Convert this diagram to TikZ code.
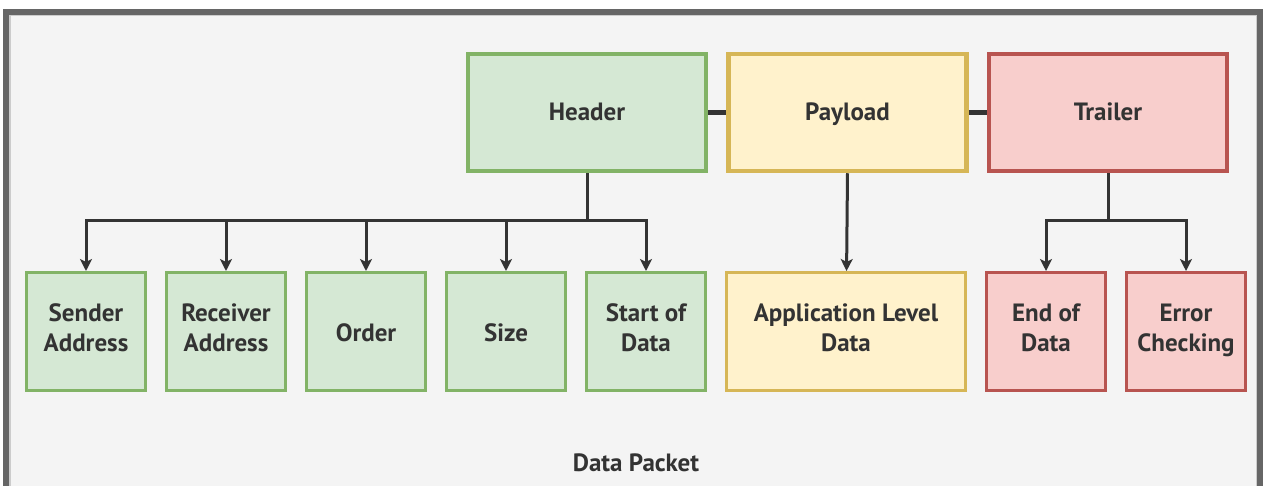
\documentclass[tikz,border=0pt]{standalone}
\usepackage{fontspec}
\setmainfont{PT Sans}
\usetikzlibrary{positioning,arrows.meta}

\definecolor{framegray}{HTML}{666666}
\definecolor{bggray}{HTML}{F4F4F4}
\definecolor{inkgray}{HTML}{333333}
\definecolor{greenfill}{HTML}{D5E8D4}
\definecolor{greenline}{HTML}{82B366}
\definecolor{yellowfill}{HTML}{FFF2CC}
\definecolor{yellowline}{HTML}{D6B656}
\definecolor{redfill}{HTML}{F8CECC}
\definecolor{redline}{HTML}{B85450}

\newcommand{\captop}{\rule{0pt}{23pt}}
\newcommand{\fieldtop}{\rule{0pt}{28pt}}
\newcommand{\capbot}{\rule[-7pt]{0pt}{7pt}}

\begin{document}
\begin{tikzpicture}[x=1pt,y=-1pt,node distance=18pt,
                    >={Stealth[length=12pt,width=12pt,inset=3pt]},
                    font=\fontsize{25}{30}\selectfont\bfseries,text=inkgray,
                    execute at begin node=\captop,
                    execute at end node=\capbot]
  \tikzstyle{part}=[draw,rectangle,line width=4.5pt,minimum width=238pt,minimum height=117pt,align=center]
  \tikzstyle{field}=[draw,rectangle,line width=3pt,minimum width=119pt,minimum height=118pt,align=center,inner sep=1pt,
                     execute at begin node=\fieldtop]
  \tikzstyle{link}=[draw=inkgray,line width=3pt]
	\tikzstyle{green}=[fill=greenfill,draw=greenline]
	\tikzstyle{yellow}=[fill=yellowfill,draw=yellowline]
	\tikzstyle{red}=[fill=redfill,draw=redline]

  % frame
  \useasboundingbox (0,0) rectangle (1267,486);
  \fill[white] (0,0) rectangle (1267,486);
  \draw[line width=6pt,draw=framegray,fill=bggray] (6,12) rectangle (1260,530);
  \draw[line width=1.5pt,draw=black!20] (9.75,15.75) rectangle (1256.25,530);

  % top row
  \node[part,green]  (header)                        at (587,112.5) {Header};
  \node[part,yellow] (payload) [right=of header]  {Payload};
  \node[part,red]    (trailer) [right=of payload] {Trailer};

  % bottom row
  \node[field,green]  (sender)   at (86,331.5)       {Sender\\Address};
  \node[field,green]  (receiver) [right=of sender]   {Receiver\\Address};
  \node[field,green]  (order)    [right=of receiver] {Order};
  \node[field,green]  (size)     [right=of order]    {Size};
  \node[field,green]  (start)    [right=of size]     {Start of\\Data};
  \node[field,yellow,minimum width=239pt] (appdata) [right=of start] {Application Level\\Data};
  \node[field,red]    (enddata)  [right=of appdata]  {End of\\Data};
  \node[field,red]    (errcheck) [right=of enddata]  {Error\\Checking};

  \node (packet) at (636,463) {Data Packet};

  \coordinate (hbus) at ([yshift=-47pt]header.south);
  \coordinate (tbus) at ([yshift=-47pt]trailer.south);

  \path[link,line width=4.5pt] (header) -- (payload)
        (payload) -- (trailer);
  \foreach \n in {sender,receiver,order,size,start}
    \draw[link,->] (header.south) -- (hbus) -| (\n);
  \draw[link,->] (payload.south) -- (appdata);
  \foreach \n in {enddata,errcheck}
    \draw[link,->] (trailer.south) -- (tbus) -| (\n);
\end{tikzpicture}
\end{document}
